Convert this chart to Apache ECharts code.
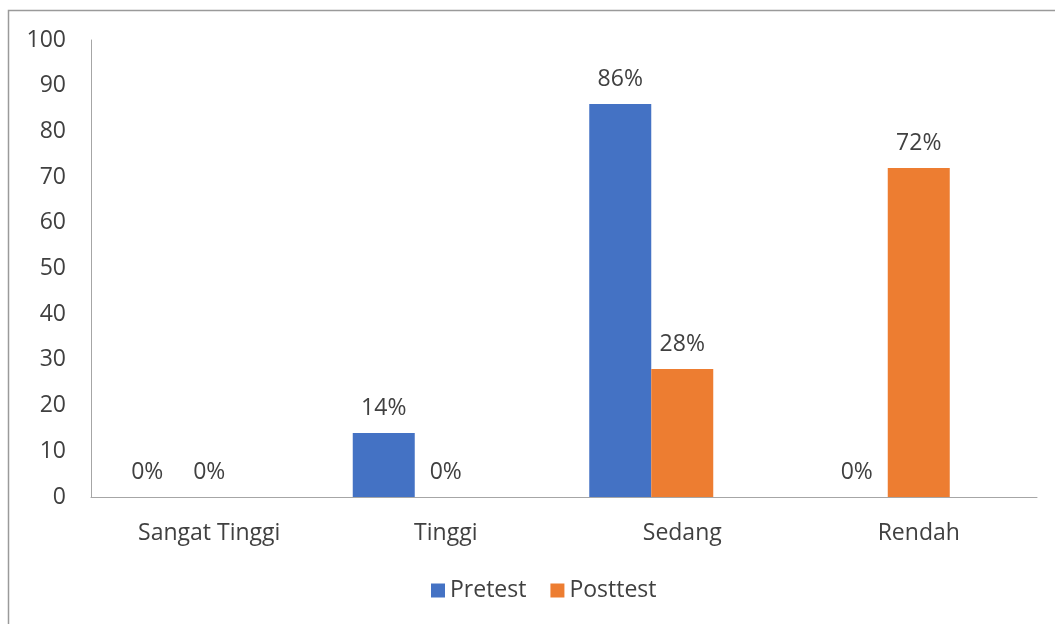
<!DOCTYPE html>
<html>
<head>
    <meta charset="utf-8" />
    <title>Pretest vs Posttest</title>
    <script src="https://cdn.jsdelivr.net/npm/echarts@6/dist/echarts.min.js"></script>
    <style>
        html, body { margin: 0; padding: 0; background: #fff; }
        #chart { width: 1055px; height: 624px; }
    </style>
</head>
<body>
    <div id="chart"></div>
    <script>
        // data
        var categories = ['Sangat Tinggi', 'Tinggi', 'Sedang', 'Rendah'];
        var pretest = [0, 14, 86, 0];
        var posttest = [0, 0, 28, 72];
        var emptySeries = [null, null, null, null]; // the Excel chart keeps an empty third slot
        var yTicks = [0, 100, 10]; // min, max, step

        var fontName = '"Open Sans", "Noto Sans", sans-serif';
        var chart = echarts.init(document.getElementById('chart'));

        var labelStyle = {
            show: true,
            position: 'top',
            distance: 13,
            formatter: '{c}%',
            color: '#404040',
            fontFamily: fontName,
            fontSize: 23
        };

        chart.setOption({
            animation: false,
            color: ['#4472C4', '#ED7D31', '#A5A5A5'],
            graphic: [{
                type: 'rect',
                shape: { x: 8.5, y: 10.5, width: 1060, height: 640 },
                style: { fill: 'none', stroke: '#9a9a9a', lineWidth: 1.5 },
                silent: true
            }],
            grid: { left: 91, right: 18, top: 40, bottom: 127 },
            legend: {
                data: ['Pretest', 'Posttest'],
                bottom: 17,
                left: 426,
                itemWidth: 14,
                itemHeight: 14,
                itemGap: 24,
                icon: 'rect',
                textStyle: { color: '#404040', fontFamily: fontName, fontSize: 23 }
            },
            xAxis: {
                type: 'category',
                data: categories,
                axisLine: { lineStyle: { color: '#a6a6a6', width: 1 } },
                axisTick: { show: false },
                axisLabel: { color: '#404040', fontFamily: fontName, fontSize: 23, margin: 25 }
            },
            yAxis: {
                type: 'value',
                min: yTicks[0],
                max: yTicks[1],
                interval: yTicks[2],
                axisLine: { show: true, lineStyle: { color: '#a6a6a6', width: 1 } },
                axisTick: { show: false },
                splitLine: { show: false },
                axisLabel: { color: '#404040', fontFamily: fontName, fontSize: 23, margin: 25 }
            },
            series: [{
                name: 'Pretest',
                type: 'bar',
                data: pretest,
                barWidth: 62,
                barGap: '0%',
                label: labelStyle
            }, {
                name: 'Posttest',
                type: 'bar',
                data: posttest,
                barWidth: 62,
                label: labelStyle
            }, {
                name: 'empty',
                type: 'bar',
                data: emptySeries,
                barWidth: 62
            }]
        });
    </script>
</body>
</html>
